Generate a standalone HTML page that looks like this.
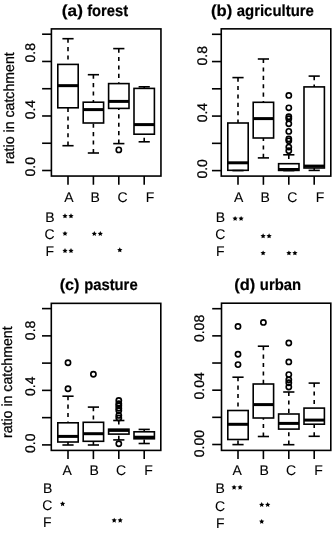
<!DOCTYPE html>
<html><head><meta charset="utf-8"><style>
html,body{margin:0;padding:0;background:#fff;}
svg{display:block;filter:grayscale(1) blur(0.35px);}
.ln{fill:none;stroke:#000;stroke-width:1.6;}
rect.ln{fill:none;}
.ds{stroke:#000;stroke-width:1.6;stroke-dasharray:4.1 4.3;fill:none;}
.md{stroke:#000;stroke-width:3.0;}
.pt{fill:none;stroke:#000;stroke-width:1.65;}
text{font-family:"Liberation Sans",sans-serif;fill:#000;text-rendering:geometricPrecision;}
.tt{font-size:16px;font-weight:bold;stroke:#000;stroke-width:0.2px;}
.tx{font-size:14px;stroke:#000;stroke-width:0.1px;}
.tr{stroke-width:0.25px;}
</style></head><body>
<svg width="332" height="533" viewBox="0 0 332 533">
<rect width="332" height="533" fill="#fff"/>
<rect x="51.4" y="28.9" width="109.55" height="147.15" class="ln"/>
<line x1="42.1" y1="170.5" x2="51.4" y2="170.5" class="ln"/>
<line x1="42.1" y1="143.24" x2="51.4" y2="143.24" class="ln"/>
<line x1="42.1" y1="115.98" x2="51.4" y2="115.98" class="ln"/>
<line x1="42.1" y1="88.72" x2="51.4" y2="88.72" class="ln"/>
<line x1="42.1" y1="61.46" x2="51.4" y2="61.46" class="ln"/>
<line x1="42.1" y1="34.2" x2="51.4" y2="34.2" class="ln"/>
<line x1="68" y1="176.05" x2="68" y2="184.75" class="ln"/>
<line x1="93.4" y1="176.05" x2="93.4" y2="184.75" class="ln"/>
<line x1="118.8" y1="176.05" x2="118.8" y2="184.75" class="ln"/>
<line x1="144.2" y1="176.05" x2="144.2" y2="184.75" class="ln"/>
<line x1="68" y1="38.7" x2="68" y2="64.4" class="ds"/>
<line x1="68" y1="145.7" x2="68" y2="107.8" class="ds"/>
<line x1="62.4" y1="38.7" x2="73.6" y2="38.7" class="ln"/>
<line x1="62.4" y1="145.7" x2="73.6" y2="145.7" class="ln"/>
<rect x="57.8" y="64.4" width="20.4" height="43.4" class="ln" fill="#fff"/>
<line x1="57.8" y1="85.65" x2="78.2" y2="85.65" class="md"/>
<line x1="93.4" y1="74.7" x2="93.4" y2="102.2" class="ds"/>
<line x1="93.4" y1="153" x2="93.4" y2="123" class="ds"/>
<line x1="87.8" y1="74.7" x2="99" y2="74.7" class="ln"/>
<line x1="87.8" y1="153" x2="99" y2="153" class="ln"/>
<rect x="83.2" y="102.2" width="20.4" height="20.8" class="ln" fill="#fff"/>
<line x1="83.2" y1="109.6" x2="103.6" y2="109.6" class="md"/>
<line x1="118.8" y1="48.6" x2="118.8" y2="83.6" class="ds"/>
<line x1="118.8" y1="143.6" x2="118.8" y2="108.4" class="ds"/>
<line x1="113.2" y1="48.6" x2="124.4" y2="48.6" class="ln"/>
<line x1="113.2" y1="143.6" x2="124.4" y2="143.6" class="ln"/>
<rect x="108.6" y="83.6" width="20.4" height="24.8" class="ln" fill="#fff"/>
<line x1="108.6" y1="101.4" x2="129" y2="101.4" class="md"/>
<circle cx="118.8" cy="149.9" r="2.6" class="pt"/>
<line x1="144.2" y1="86.8" x2="144.2" y2="88.4" class="ds"/>
<line x1="144.2" y1="141.8" x2="144.2" y2="134.2" class="ds"/>
<line x1="138.6" y1="86.8" x2="149.8" y2="86.8" class="ln"/>
<line x1="138.6" y1="141.8" x2="149.8" y2="141.8" class="ln"/>
<rect x="134" y="88.4" width="20.4" height="45.8" class="ln" fill="#fff"/>
<line x1="134" y1="124.6" x2="154.4" y2="124.6" class="md"/>
<rect x="221.25" y="28.85" width="109.55" height="147.25" class="ln"/>
<line x1="211.95" y1="170.6" x2="221.25" y2="170.6" class="ln"/>
<line x1="211.95" y1="143.34" x2="221.25" y2="143.34" class="ln"/>
<line x1="211.95" y1="116.08" x2="221.25" y2="116.08" class="ln"/>
<line x1="211.95" y1="88.82" x2="221.25" y2="88.82" class="ln"/>
<line x1="211.95" y1="61.56" x2="221.25" y2="61.56" class="ln"/>
<line x1="211.95" y1="34.3" x2="221.25" y2="34.3" class="ln"/>
<line x1="238" y1="176.1" x2="238" y2="184.8" class="ln"/>
<line x1="263.4" y1="176.1" x2="263.4" y2="184.8" class="ln"/>
<line x1="288.8" y1="176.1" x2="288.8" y2="184.8" class="ln"/>
<line x1="314.2" y1="176.1" x2="314.2" y2="184.8" class="ln"/>
<line x1="238" y1="77.6" x2="238" y2="123" class="ds"/>
<line x1="232.4" y1="77.6" x2="243.6" y2="77.6" class="ln"/>
<line x1="232.4" y1="170.6" x2="243.6" y2="170.6" class="ln"/>
<rect x="227.8" y="123" width="20.4" height="47.3" class="ln" fill="#fff"/>
<line x1="227.8" y1="162.8" x2="248.2" y2="162.8" class="md"/>
<line x1="263.4" y1="59" x2="263.4" y2="102.3" class="ds"/>
<line x1="263.4" y1="157.9" x2="263.4" y2="138" class="ds"/>
<line x1="257.8" y1="59" x2="269" y2="59" class="ln"/>
<line x1="257.8" y1="157.9" x2="269" y2="157.9" class="ln"/>
<rect x="253.2" y="102.3" width="20.4" height="35.7" class="ln" fill="#fff"/>
<line x1="253.2" y1="118.6" x2="273.6" y2="118.6" class="md"/>
<line x1="288.8" y1="154.8" x2="288.8" y2="163.7" class="ds"/>
<line x1="283.2" y1="154.8" x2="294.4" y2="154.8" class="ln"/>
<line x1="283.2" y1="170.6" x2="294.4" y2="170.6" class="ln"/>
<rect x="278.6" y="163.7" width="20.4" height="6.7" class="ln" fill="#fff"/>
<line x1="278.6" y1="169.5" x2="299" y2="169.5" class="md"/>
<circle cx="288.8" cy="95.4" r="2.6" class="pt"/>
<circle cx="288.8" cy="107.8" r="2.6" class="pt"/>
<circle cx="288.8" cy="116.7" r="2.6" class="pt"/>
<circle cx="288.8" cy="118.7" r="2.6" class="pt"/>
<circle cx="288.8" cy="123.7" r="2.6" class="pt"/>
<circle cx="288.8" cy="131.4" r="2.6" class="pt"/>
<circle cx="288.8" cy="139" r="2.6" class="pt"/>
<circle cx="288.8" cy="140.8" r="2.6" class="pt"/>
<circle cx="288.8" cy="147.1" r="2.6" class="pt"/>
<circle cx="288.8" cy="150.7" r="2.6" class="pt"/>
<line x1="314.2" y1="76.1" x2="314.2" y2="86.9" class="ds"/>
<line x1="314.2" y1="170.4" x2="314.2" y2="168" class="ds"/>
<line x1="308.6" y1="76.1" x2="319.8" y2="76.1" class="ln"/>
<line x1="308.6" y1="170.4" x2="319.8" y2="170.4" class="ln"/>
<rect x="304" y="86.9" width="20.4" height="81.1" class="ln" fill="#fff"/>
<line x1="304" y1="166.1" x2="324.4" y2="166.1" class="md"/>
<rect x="51.3" y="303.35" width="109.5" height="147.05" class="ln"/>
<line x1="42" y1="444.9" x2="51.3" y2="444.9" class="ln"/>
<line x1="42" y1="417.64" x2="51.3" y2="417.64" class="ln"/>
<line x1="42" y1="390.38" x2="51.3" y2="390.38" class="ln"/>
<line x1="42" y1="363.12" x2="51.3" y2="363.12" class="ln"/>
<line x1="42" y1="335.86" x2="51.3" y2="335.86" class="ln"/>
<line x1="42" y1="308.6" x2="51.3" y2="308.6" class="ln"/>
<line x1="68" y1="450.4" x2="68" y2="459.1" class="ln"/>
<line x1="93.4" y1="450.4" x2="93.4" y2="459.1" class="ln"/>
<line x1="118.8" y1="450.4" x2="118.8" y2="459.1" class="ln"/>
<line x1="144.2" y1="450.4" x2="144.2" y2="459.1" class="ln"/>
<line x1="68" y1="396.2" x2="68" y2="422.8" class="ds"/>
<line x1="68" y1="445" x2="68" y2="442" class="ds"/>
<line x1="62.4" y1="396.2" x2="73.6" y2="396.2" class="ln"/>
<line x1="62.4" y1="445" x2="73.6" y2="445" class="ln"/>
<rect x="57.8" y="422.8" width="20.4" height="19.2" class="ln" fill="#fff"/>
<line x1="57.8" y1="436.4" x2="78.2" y2="436.4" class="md"/>
<circle cx="68" cy="362.8" r="2.6" class="pt"/>
<circle cx="68" cy="388.8" r="2.6" class="pt"/>
<line x1="93.4" y1="407.1" x2="93.4" y2="422.3" class="ds"/>
<line x1="93.4" y1="445" x2="93.4" y2="441.3" class="ds"/>
<line x1="87.8" y1="407.1" x2="99" y2="407.1" class="ln"/>
<line x1="87.8" y1="445" x2="99" y2="445" class="ln"/>
<rect x="83.2" y="422.3" width="20.4" height="19" class="ln" fill="#fff"/>
<line x1="83.2" y1="433.7" x2="103.6" y2="433.7" class="md"/>
<circle cx="93.4" cy="374.2" r="2.6" class="pt"/>
<line x1="118.8" y1="420.5" x2="118.8" y2="429.2" class="ds"/>
<line x1="118.8" y1="439.9" x2="118.8" y2="434.1" class="ds"/>
<line x1="113.2" y1="420.5" x2="124.4" y2="420.5" class="ln"/>
<line x1="113.2" y1="439.9" x2="124.4" y2="439.9" class="ln"/>
<rect x="108.6" y="429.2" width="20.4" height="4.9" class="ln" fill="#fff"/>
<line x1="108.6" y1="430.4" x2="129" y2="430.4" class="md"/>
<circle cx="118.8" cy="443.8" r="2.6" class="pt"/>
<circle cx="118.8" cy="400.5" r="2.6" class="pt"/>
<circle cx="118.8" cy="403.8" r="2.6" class="pt"/>
<circle cx="118.8" cy="405.8" r="2.6" class="pt"/>
<circle cx="118.8" cy="408.2" r="2.6" class="pt"/>
<circle cx="118.8" cy="410.5" r="2.6" class="pt"/>
<circle cx="118.8" cy="415.4" r="2.6" class="pt"/>
<circle cx="118.8" cy="417.9" r="2.6" class="pt"/>
<line x1="144.2" y1="429.4" x2="144.2" y2="431.8" class="ds"/>
<line x1="144.2" y1="443.5" x2="144.2" y2="438.8" class="ds"/>
<line x1="138.6" y1="429.4" x2="149.8" y2="429.4" class="ln"/>
<line x1="138.6" y1="443.5" x2="149.8" y2="443.5" class="ln"/>
<rect x="134" y="431.8" width="20.4" height="7" class="ln" fill="#fff"/>
<line x1="134" y1="437.2" x2="154.4" y2="437.2" class="md"/>
<rect x="221.5" y="303.2" width="109.3" height="147.2" class="ln"/>
<line x1="212.2" y1="444.5" x2="221.5" y2="444.5" class="ln"/>
<line x1="212.2" y1="417.34" x2="221.5" y2="417.34" class="ln"/>
<line x1="212.2" y1="390.18" x2="221.5" y2="390.18" class="ln"/>
<line x1="212.2" y1="363.02" x2="221.5" y2="363.02" class="ln"/>
<line x1="212.2" y1="335.86" x2="221.5" y2="335.86" class="ln"/>
<line x1="212.2" y1="308.7" x2="221.5" y2="308.7" class="ln"/>
<line x1="238" y1="450.4" x2="238" y2="459.1" class="ln"/>
<line x1="263.4" y1="450.4" x2="263.4" y2="459.1" class="ln"/>
<line x1="288.8" y1="450.4" x2="288.8" y2="459.1" class="ln"/>
<line x1="314.2" y1="450.4" x2="314.2" y2="459.1" class="ln"/>
<line x1="238" y1="377.2" x2="238" y2="410.5" class="ds"/>
<line x1="238" y1="444.6" x2="238" y2="439.5" class="ds"/>
<line x1="232.4" y1="377.2" x2="243.6" y2="377.2" class="ln"/>
<line x1="232.4" y1="444.6" x2="243.6" y2="444.6" class="ln"/>
<rect x="227.8" y="410.5" width="20.4" height="29" class="ln" fill="#fff"/>
<line x1="227.8" y1="424.3" x2="248.2" y2="424.3" class="md"/>
<circle cx="238" cy="326.4" r="2.6" class="pt"/>
<circle cx="238" cy="354.3" r="2.6" class="pt"/>
<circle cx="238" cy="364.6" r="2.6" class="pt"/>
<line x1="263.4" y1="346.2" x2="263.4" y2="384" class="ds"/>
<line x1="263.4" y1="436.5" x2="263.4" y2="418" class="ds"/>
<line x1="257.8" y1="346.2" x2="269" y2="346.2" class="ln"/>
<line x1="257.8" y1="436.5" x2="269" y2="436.5" class="ln"/>
<rect x="253.2" y="384" width="20.4" height="34" class="ln" fill="#fff"/>
<line x1="253.2" y1="404.6" x2="273.6" y2="404.6" class="md"/>
<circle cx="263.4" cy="322.4" r="2.6" class="pt"/>
<line x1="288.8" y1="392" x2="288.8" y2="414" class="ds"/>
<line x1="288.8" y1="444.7" x2="288.8" y2="429.1" class="ds"/>
<line x1="283.2" y1="392" x2="294.4" y2="392" class="ln"/>
<line x1="283.2" y1="444.7" x2="294.4" y2="444.7" class="ln"/>
<rect x="278.6" y="414" width="20.4" height="15.1" class="ln" fill="#fff"/>
<line x1="278.6" y1="423.4" x2="299" y2="423.4" class="md"/>
<circle cx="288.8" cy="343" r="2.6" class="pt"/>
<circle cx="288.8" cy="361.9" r="2.6" class="pt"/>
<circle cx="288.8" cy="374.6" r="2.6" class="pt"/>
<circle cx="288.8" cy="379.7" r="2.6" class="pt"/>
<circle cx="288.8" cy="382.7" r="2.6" class="pt"/>
<circle cx="288.8" cy="387" r="2.6" class="pt"/>
<line x1="314.2" y1="383.1" x2="314.2" y2="408.1" class="ds"/>
<line x1="314.2" y1="436.3" x2="314.2" y2="424.2" class="ds"/>
<line x1="308.6" y1="383.1" x2="319.8" y2="383.1" class="ln"/>
<line x1="308.6" y1="436.3" x2="319.8" y2="436.3" class="ln"/>
<rect x="304" y="408.1" width="20.4" height="16.1" class="ln" fill="#fff"/>
<line x1="304" y1="420.1" x2="324.4" y2="420.1" class="md"/>

<!-- titles -->
<text transform="translate(61.84,15.8) scale(1.0750,1)" class="tt">(a)</text>
<text transform="translate(87.22,15.8) scale(0.9205,1)" class="tt">forest</text>
<text transform="translate(211.02,15.9) scale(1.0384,1)" class="tt">(b)</text>
<text transform="translate(236.73,15.9) scale(0.9335,1)" class="tt">agriculture</text>
<text transform="translate(59.64,290.2) scale(1.0167,1)" class="tt">(c)</text>
<text transform="translate(84.16,290.2) scale(0.9247,1)" class="tt">pasture</text>
<text transform="translate(234.33,290.2) scale(1.0278,1)" class="tt">(d)</text>
<text transform="translate(259.87,290.2) scale(0.9271,1)" class="tt">urban</text>
<!-- y labels -->
<text transform="translate(14,108.1) rotate(-90) scale(0.97,1)" class="tx tr" style="font-size:14.6px" text-anchor="middle">ratio in catchment</text>
<text transform="translate(12,382.2) rotate(-90) scale(0.97,1)" class="tx tr" style="font-size:14.6px" text-anchor="middle">ratio in catchment</text>
<!-- y tick labels (a) -->
<text transform="translate(35.3,52.8) rotate(-90)" class="tx tr" text-anchor="middle">0.8</text>
<text transform="translate(35.3,109.6) rotate(-90)" class="tx tr" text-anchor="middle">0.4</text>
<text transform="translate(35.3,166.7) rotate(-90)" class="tx tr" text-anchor="middle">0.0</text>
<!-- (b) -->
<text transform="translate(206.6,55.75) rotate(-90)" class="tx tr" text-anchor="middle">0.8</text>
<text transform="translate(206.6,112.6) rotate(-90)" class="tx tr" text-anchor="middle">0.4</text>
<text transform="translate(206.6,168.85) rotate(-90)" class="tx tr" text-anchor="middle">0.0</text>
<!-- (c) -->
<text transform="translate(34.6,330.4) rotate(-90)" class="tx tr" text-anchor="middle">0.8</text>
<text transform="translate(34.6,386.3) rotate(-90)" class="tx tr" text-anchor="middle">0.4</text>
<text transform="translate(34.6,443.3) rotate(-90)" class="tx tr" text-anchor="middle">0.0</text>
<!-- (d) -->
<text transform="translate(204,328.45) rotate(-90)" class="tx tr" text-anchor="middle">0.08</text>
<text transform="translate(204,385.8) rotate(-90)" class="tx tr" text-anchor="middle">0.04</text>
<text transform="translate(204,443.6) rotate(-90)" class="tx tr" text-anchor="middle">0.00</text>
<text x="68.85" y="202.3" class="tx" text-anchor="middle">A</text>
<text x="95.2" y="202.3" class="tx" text-anchor="middle">B</text>
<text x="122.5" y="202.3" class="tx" text-anchor="middle">C</text>
<text x="150.05" y="202.3" class="tx" text-anchor="middle">F</text>
<text x="238.55" y="202.3" class="tx" text-anchor="middle">A</text>
<text x="265.05" y="202.3" class="tx" text-anchor="middle">B</text>
<text x="292.3" y="202.3" class="tx" text-anchor="middle">C</text>
<text x="320.05" y="202.3" class="tx" text-anchor="middle">F</text>
<text x="67.2" y="475.4" class="tx" text-anchor="middle">A</text>
<text x="94.15" y="475.4" class="tx" text-anchor="middle">B</text>
<text x="121.05" y="475.4" class="tx" text-anchor="middle">C</text>
<text x="148.45" y="475.4" class="tx" text-anchor="middle">F</text>
<text x="237.2" y="475.4" class="tx" text-anchor="middle">A</text>
<text x="264.15" y="475.4" class="tx" text-anchor="middle">B</text>
<text x="291.05" y="475.4" class="tx" text-anchor="middle">C</text>
<text x="318.45" y="475.4" class="tx" text-anchor="middle">F</text>
<text x="45.2" y="222.3" class="tx">B</text>
<text x="44.6" y="239.2" class="tx">C</text>
<text x="45.4" y="256.4" class="tx">F</text>
<text x="215.8" y="222.3" class="tx">B</text>
<text x="215.2" y="239.2" class="tx">C</text>
<text x="216" y="256.4" class="tx">F</text>
<text x="43" y="493.1" class="tx">B</text>
<text x="42.3" y="510.4" class="tx">C</text>
<text x="43" y="527.2" class="tx">F</text>
<text x="215.6" y="492.9" class="tx">B</text>
<text x="215" y="510.8" class="tx">C</text>
<text x="215.9" y="527.8" class="tx">F</text>
<polygon points="65.00,213.30 65.79,214.96 67.62,215.20 66.28,216.47 66.62,218.27 65.00,217.40 63.38,218.27 63.72,216.47 62.38,215.20 64.21,214.96"/>
<polygon points="71.00,213.30 71.79,214.96 73.62,215.20 72.28,216.47 72.62,218.27 71.00,217.40 69.38,218.27 69.72,216.47 68.38,215.20 70.21,214.96"/>
<polygon points="65.00,230.90 65.79,232.56 67.62,232.80 66.28,234.07 66.62,235.87 65.00,235.00 63.38,235.87 63.72,234.07 62.38,232.80 64.21,232.56"/>
<polygon points="94.30,231.00 95.09,232.66 96.92,232.90 95.58,234.17 95.92,235.97 94.30,235.10 92.68,235.97 93.02,234.17 91.68,232.90 93.51,232.66"/>
<polygon points="100.30,231.00 101.09,232.66 102.92,232.90 101.58,234.17 101.92,235.97 100.30,235.10 98.68,235.97 99.02,234.17 97.68,232.90 99.51,232.66"/>
<polygon points="65.00,248.10 65.79,249.76 67.62,250.00 66.28,251.27 66.62,253.07 65.00,252.20 63.38,253.07 63.72,251.27 62.38,250.00 64.21,249.76"/>
<polygon points="71.00,248.10 71.79,249.76 73.62,250.00 72.28,251.27 72.62,253.07 71.00,252.20 69.38,253.07 69.72,251.27 68.38,250.00 70.21,249.76"/>
<polygon points="119.80,247.30 120.59,248.96 122.42,249.20 121.08,250.47 121.42,252.27 119.80,251.40 118.18,252.27 118.52,250.47 117.18,249.20 119.01,248.96"/>
<polygon points="235.10,215.90 235.89,217.56 237.72,217.80 236.38,219.07 236.72,220.87 235.10,220.00 233.48,220.87 233.82,219.07 232.48,217.80 234.31,217.56"/>
<polygon points="241.10,215.90 241.89,217.56 243.72,217.80 242.38,219.07 242.72,220.87 241.10,220.00 239.48,220.87 239.82,219.07 238.48,217.80 240.31,217.56"/>
<polygon points="263.10,233.30 263.89,234.96 265.72,235.20 264.38,236.47 264.72,238.27 263.10,237.40 261.48,238.27 261.82,236.47 260.48,235.20 262.31,234.96"/>
<polygon points="269.10,233.30 269.89,234.96 271.72,235.20 270.38,236.47 270.72,238.27 269.10,237.40 267.48,238.27 267.82,236.47 266.48,235.20 268.31,234.96"/>
<polygon points="263.10,250.40 263.89,252.06 265.72,252.30 264.38,253.57 264.72,255.37 263.10,254.50 261.48,255.37 261.82,253.57 260.48,252.30 262.31,252.06"/>
<polygon points="288.90,250.40 289.69,252.06 291.52,252.30 290.18,253.57 290.52,255.37 288.90,254.50 287.28,255.37 287.62,253.57 286.28,252.30 288.11,252.06"/>
<polygon points="294.90,250.40 295.69,252.06 297.52,252.30 296.18,253.57 296.52,255.37 294.90,254.50 293.28,255.37 293.62,253.57 292.28,252.30 294.11,252.06"/>
<polygon points="62.60,501.20 63.39,502.86 65.22,503.10 63.88,504.37 64.22,506.17 62.60,505.30 60.98,506.17 61.32,504.37 59.98,503.10 61.81,502.86"/>
<polygon points="114.20,517.70 114.99,519.36 116.82,519.60 115.48,520.87 115.82,522.67 114.20,521.80 112.58,522.67 112.92,520.87 111.58,519.60 113.41,519.36"/>
<polygon points="120.20,517.70 120.99,519.36 122.82,519.60 121.48,520.87 121.82,522.67 120.20,521.80 118.58,522.67 118.92,520.87 117.58,519.60 119.41,519.36"/>
<polygon points="234.10,484.70 234.89,486.36 236.72,486.60 235.38,487.87 235.72,489.67 234.10,488.80 232.48,489.67 232.82,487.87 231.48,486.60 233.31,486.36"/>
<polygon points="240.10,484.70 240.89,486.36 242.72,486.60 241.38,487.87 241.72,489.67 240.10,488.80 238.48,489.67 238.82,487.87 237.48,486.60 239.31,486.36"/>
<polygon points="261.70,502.00 262.49,503.66 264.32,503.90 262.98,505.17 263.32,506.97 261.70,506.10 260.08,506.97 260.42,505.17 259.08,503.90 260.91,503.66"/>
<polygon points="267.70,502.00 268.49,503.66 270.32,503.90 268.98,505.17 269.32,506.97 267.70,506.10 266.08,506.97 266.42,505.17 265.08,503.90 266.91,503.66"/>
<polygon points="261.70,518.90 262.49,520.56 264.32,520.80 262.98,522.07 263.32,523.87 261.70,523.00 260.08,523.87 260.42,522.07 259.08,520.80 260.91,520.56"/>

</svg>
</body></html>
